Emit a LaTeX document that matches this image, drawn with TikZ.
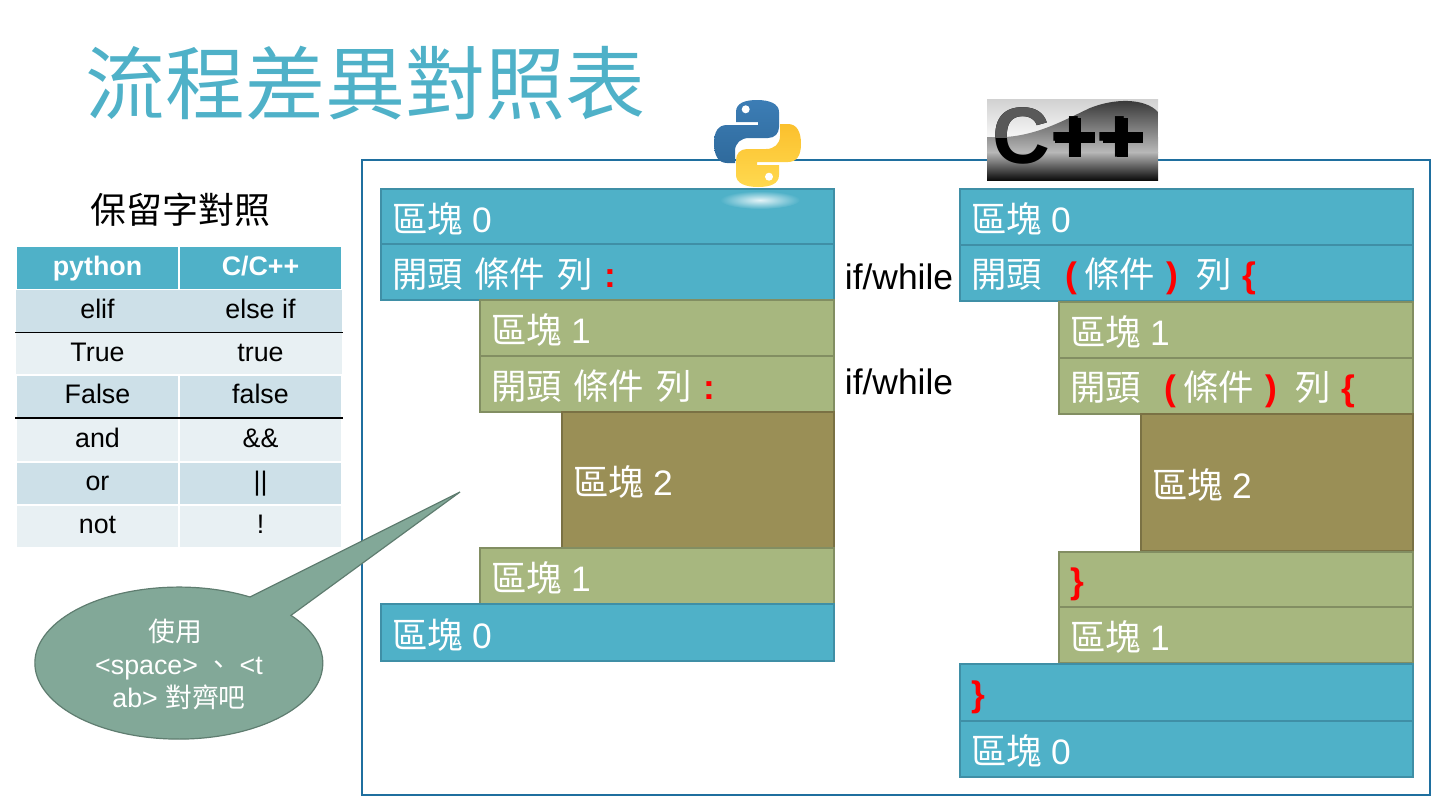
\documentclass[tikz,border=0pt]{standalone}
\usepackage{fontspec}
\usepackage{color}
\setmainfont{Liberation Sans}
\newfontfamily\cjk{Noto Sans CJK TC}
\usetikzlibrary{shapes.geometric}
\definecolor{teal0}{HTML}{4FB1C8}
\definecolor{tealedge}{HTML}{3F8FA6}
\definecolor{olive1}{HTML}{A7B77F}
\definecolor{oliveedge}{HTML}{828E62}
\definecolor{olive2}{HTML}{9A8F56}
\definecolor{olive2edge}{HTML}{7A7144}
\definecolor{frameblue}{HTML}{1F6F9F}
\definecolor{rowdark}{HTML}{CDE0E8}
\definecolor{rowlight}{HTML}{E8F0F3}
\definecolor{bubble}{HTML}{82A898}
\definecolor{bubbleedge}{HTML}{5F7D70}
\definecolor{pyblue}{HTML}{3C7DB5}
\definecolor{pybluedk}{HTML}{2F6A9C}
\definecolor{pyyellow}{HTML}{FFD94F}
\definecolor{pyyellowdk}{HTML}{FBC02D}
\newcommand{\zh}[1]{{\cjk #1}}
\newcommand{\rd}[1]{\textcolor{red}{\textbf{#1}}}
\newcommand{\qu}[1]{\zh{區塊}\hspace{4.6pt}#1}
\newcommand{\snake}{(757,100) .. controls (745,100) and (736,103) .. (736,112) -- (736,122) -- (758,122) -- (758,125) -- (727,125) .. controls (718,125) and (714,132) .. (714,143) .. controls (714,155) and (718,163) .. (727,163) -- (735,163) -- (735,151) .. controls (735,143) and (741,138) .. (749,138) -- (768,138) .. controls (775,138) and (779,133) .. (779,127) -- (779,112) .. controls (779,104) and (770,100) .. (757,100) -- cycle}
\newcommand{\cond}{\zh{開頭}\ \ \rd{(}\hspace{3.5pt}\zh{條件}\hspace{6pt}\rd{)}\hspace{9pt}\zh{列}\hspace{5pt}\rd{\{}}
\tikzset{
	blk/.style n args={2}{anchor=north west, outer sep=0pt, inner xsep=5.5pt, inner ysep=0pt, line width=.55pt, text=white, align=left, font=\fontsize{17.7}{20}\selectfont, minimum width=#1*.5pt, text width=#1*.5pt-11pt, minimum height=#2*.5pt, execute at begin node={\rule[-2.3pt]{0pt}{20.1pt}}},
	blue/.style={fill=teal0, draw=tealedge},
	lolive/.style={fill=olive1, draw=oliveedge},
	dolive/.style={fill=olive2, draw=olive2edge},
	cell/.style={minimum width=81.5pt, outer sep=0pt, inner sep=0pt, text height=.9em, text depth=.16em, font=\fontsize{13.4}{16}\selectfont},
	headcell/.style={cell, minimum height=22pt, fill=teal0, draw=white, line width=.6pt, text=white, font=\fontsize{13.4}{16}\selectfont\bfseries},
	darkcell/.style={cell, minimum height=21.5pt, fill=rowdark, draw=white, line width=.6pt},
	lightcell/.style={cell, minimum height=21.5pt, fill=rowlight, draw=white, line width=.6pt},
	sidetext/.style={font=\fontsize{17.7}{20}\selectfont}
}
\begin{document}
\begin{tikzpicture}[x=.5pt, y=-.5pt]
	\useasboundingbox (0,0) rectangle (1440,810);
	\node[anchor=west, inner sep=0pt, text=teal0, font=\fontsize{40}{44}\cjk] (title) at (85.5,83) {流程差異對照表};
	\node[inner sep=0pt, font=\fontsize{18}{22}\cjk] (subtitle) at (180.5,210) {保留字對照};

	\node[draw=frameblue, line width=1pt, anchor=north west, minimum width=534.25pt, minimum height=317.5pt, outer sep=0pt] (frame) at (361.5,160) {};

	% table
	\node[headcell] (h1) at (97.5,268) {python};
	\node[headcell] (h2) at (260.5,268) {C/C++};
	\node[cell, minimum height=21.5pt, fill=rowdark] (a1) at (97.5,311) {elif};
	\node[cell, minimum height=21.5pt, fill=rowdark] (a2) at (260.5,311) {else if};
	\node[cell, minimum height=21.5pt, fill=rowlight] (b1) at (97.5,354) {True};
	\node[cell, minimum height=21.5pt, fill=rowlight] (b2) at (260.5,354) {true};
	\node[darkcell] (c1) at (97.5,396.5) {False};
	\node[darkcell] (c2) at (260.5,396.5) {false};
	\node[lightcell] (d1) at (97.5,440) {and};
	\node[lightcell] (d2) at (260.5,440) {\&\&};
	\node[darkcell] (e1) at (97.5,483.5) {or};
	\node[darkcell] (e2) at (260.5,483.5) {||};
	\node[lightcell] (f1) at (97.5,526.5) {not};
	\node[lightcell] (f2) at (260.5,526.5) {!};
	\draw[line width=.7pt, shorten <=-.5pt, shorten >=-.5pt] (a1.south west) -- (a2.south east);
	\draw[line width=.7pt, shorten <=-.5pt, shorten >=-.5pt] (c1.south west) -- (c2.south east);

	% left column
	\node[blk={453}{55}, blue] (p0) at (381,189) {\qu{0}};
	\node[blk={453}{56}, blue] (p1) at (381,244) {\zh{開頭 條件 列} \rd{:}};
	\node[blk={354}{56}, lolive] (p2) at (480,300) {\qu{1}};
	\node[blk={354}{56}, lolive] (p3) at (480,356) {\zh{開頭 條件 列} \rd{:}};
	\node[blk={272}{136}, dolive] (p4) at (562,412) {\qu{2}};
	\node[blk={354}{56}, lolive] (p5) at (480,548) {\qu{1}};
	\node[blk={453}{57}, blue] (p6) at (381,604) {\qu{0}};

	% right column
	\node[blk={453}{56}, blue] (q0) at (960,189) {\qu{0}};
	\node[blk={453}{56}, blue] (q1) at (960,245) {\cond};
	\node[blk={354}{56}, lolive] (q2) at (1059,302) {\qu{1}};
	\node[blk={354}{56}, lolive] (q3) at (1059,358) {\cond};
	\node[blk={272}{137}, dolive] (q4) at (1141,414) {\qu{2}};
	\node[blk={354}{55}, lolive] (q5) at (1059,552) {\rd{\}}};
	\node[blk={354}{56}, lolive] (q6) at (1059,607) {\qu{1}};
	\node[blk={453}{57}, blue] (q7) at (960,664) {\rd{\}}};
	\node[blk={453}{56}, blue] (q8) at (960,721) {\qu{0}};

	\node[sidetext] (k1) at (899,277) {if/while};
	\node[sidetext] (k2) at (899,382) {if/while};

	% callout
	\filldraw[fill=bubble, draw=bubbleedge, line width=.6pt] (460,492) -- (250,597) arc[start angle=60.4, end angle=398.9, x radius=72pt, y radius=38pt] -- cycle;
	\node[align=center, text=white, inner sep=0pt, font=\fontsize{13.4}{16.5}\selectfont] (tip) at (179,664) {\zh{使用}\hspace*{3.7pt}\\<space> \zh{、} <t\\ab> \zh{對齊吧}};

	% python logo
	\shade[inner color=white!85!teal0, outer color=teal0] (760,200) ellipse (40 and 9);
	\shade[top color=pyyellowdk, bottom color=pyyellow, rotate around={180:(757.5,143.5)}] \snake;
	\shade[top color=pyblue, bottom color=pybluedk] \snake;
	\fill[white] (745.7,109.3) circle (4);
	\fill[white] (769,176.7) circle (4);

	% c++ logo
	\shade[top color=black!18, bottom color=black!3] (987,99) rectangle (1158,137);
	\shade[top color=black!35, bottom color=black!28] (987,137) rectangle (1158,152);
	\shade[top color=black!80, bottom color=black!28] (987,137) .. controls (1030,140) and (1060,122) .. (1090,108) .. controls (1115,98) and (1145,98) .. (1158,112) -- (1158,152) -- (987,152) -- cycle;
	\shade[top color=black!28, bottom color=black!95] (987,152) rectangle (1158,180);
	\node[inner sep=0pt, anchor=center, font=\fontsize{40}{44}\selectfont\bfseries] (cpp) at (1068,136) {C++};
	\fill (1055,132) rectangle (1095,143);
	\fill (1069,118) rectangle (1081,157);
	\fill (1103,132) rectangle (1143,143);
	\fill (1117,118) rectangle (1128,157);
	\begin{scope}
		\clip (987,99) rectangle (1050,137);
		\node[inner sep=0pt, anchor=center, text=black!65, font=\fontsize{40}{44}\selectfont\bfseries] at (1068,136) {C++};
	\end{scope}
\end{tikzpicture}
\end{document}
